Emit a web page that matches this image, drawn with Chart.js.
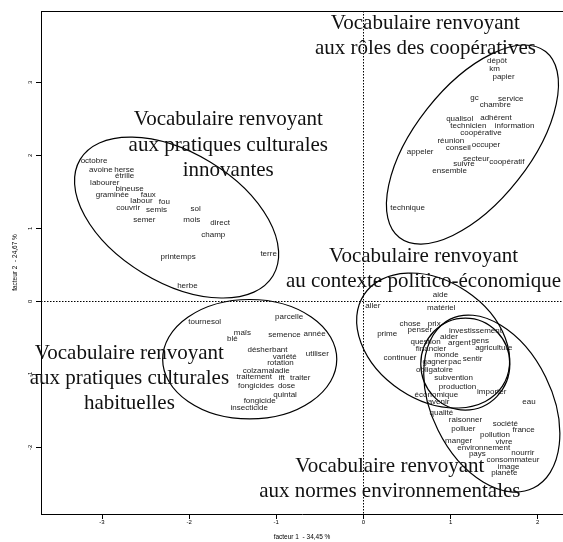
<!DOCTYPE html>
<html>
<head>
<meta charset="utf-8">
<script src="https://cdn.jsdelivr.net/npm/chart.js@4.4.0/dist/chart.umd.min.js"></script>
<style>
  html, body { margin: 0; padding: 0; background: #fff; }
</style>
</head>
<body>
<canvas id="afc" width="563" height="542"></canvas>
<script>
// word coordinates on factor 1 / factor 2
const cooperatives = [
  ['dépôt', 1.533, 3.291], ['km', 1.505, 3.191], ['papier', 1.608, 3.082],
  ['gc', 1.274, 2.789], ['service', 1.690, 2.775], ['chambre', 1.513, 2.694],
  ['qualisol', 1.105, 2.500], ['adhérent', 1.521, 2.519], ['technicien', 1.204, 2.410],
  ['information', 1.735, 2.401], ['coopérative', 1.348, 2.306], ['réunion', 1.002, 2.206],
  ['occuper', 1.406, 2.150], ['conseil', 1.088, 2.107], ['appeler', 0.651, 2.045],
  ['secteur', 1.294, 1.960], ['coopératif', 1.645, 1.908], ['suivre', 1.154, 1.880],
  ['ensemble', 0.989, 1.790], ['technique', 0.507, 1.288]
];
const innovantes = [
  ['octobre', -3.092, 1.922], ['avoine', -3.013, 1.799], ['herse', -2.745, 1.804],
  ['étrille', -2.741, 1.719], ['labourer', -2.968, 1.624], ['bineuse', -2.683, 1.544],
  ['graminée', -2.881, 1.463], ['faux', -2.469, 1.463], ['labour', -2.547, 1.373],
  ['fou', -2.284, 1.359], ['couvrir', -2.700, 1.278], ['semis', -2.374, 1.250],
  ['sol', -1.925, 1.264], ['semer', -2.514, 1.122], ['mois', -1.970, 1.113],
  ['direct', -1.645, 1.070], ['champ', -1.723, 0.914], ['printemps', -2.127, 0.606],
  ['terre', -1.088, 0.658], ['herbe', -2.020, 0.208]
];
const habituelles = [
  ['tournesol', -1.822, -0.275], ['parcelle', -0.853, -0.208], ['maïs', -1.389, -0.426],
  ['blé', -1.505, -0.507], ['semence', -0.907, -0.455], ['année', -0.561, -0.450],
  ['désherbant', -1.101, -0.663], ['utiliser', -0.528, -0.715], ['variété', -0.903, -0.753],
  ['rotation', -0.952, -0.843], ['colza', -1.278, -0.947], ['maladie', -1.006, -0.947],
  ['traitement', -1.253, -1.032], ['ift', -0.940, -1.042], ['traiter', -0.725, -1.042],
  ['fongicides', -1.232, -1.160], ['dose', -0.882, -1.160], ['quintal', -0.899, -1.274],
  ['fongicide', -1.191, -1.364], ['insecticide', -1.311, -1.463]
];
const politique = [
  ['aide', 0.882, 0.095], ['aller', 0.107, -0.066], ['matériel', 0.894, -0.085],
  ['chose', 0.536, -0.308], ['prix', 0.812, -0.313], ['penser', 0.647, -0.388],
  ['investissement', 1.286, -0.402], ['prime', 0.272, -0.450], ['aider', 0.981, -0.478],
  ['question', 0.713, -0.559], ['argent', 1.101, -0.573], ['gens', 1.340, -0.540],
  ['agriculture', 1.496, -0.634], ['financier', 0.775, -0.644], ['monde', 0.952, -0.729],
  ['continuer', 0.420, -0.777], ['sentir', 1.253, -0.791], ['gagner', 0.820, -0.833],
  ['pac', 1.047, -0.824], ['obligatoire', 0.816, -0.938], ['subvention', 1.035, -1.046],
  ['production', 1.080, -1.174], ['importer', 1.472, -1.236], ['économique', 0.837, -1.283],
  ['avenir', 0.862, -1.378], ['eau', 1.900, -1.378]
];
const normes = [
  ['qualité', 0.894, -1.520], ['raisonner', 1.171, -1.624], ['société', 1.628, -1.681],
  ['france', 1.838, -1.761], ['polluer', 1.146, -1.742], ['pollution', 1.509, -1.823],
  ['manger', 1.092, -1.908], ['vivre', 1.612, -1.927], ['environnement', 1.381, -2.008],
  ['pays', 1.307, -2.083], ['nourrir', 1.830, -2.079], ['consommateur', 1.715, -2.164],
  ['image', 1.665, -2.263], ['planète', 1.616, -2.348]
];

// group ellipses: centre x, centre y, half axes (in x / y units), tilt in degrees
const ellipses = [
  [1.251, 2.149, 1.357, 0.790, 51.8],
  [-2.144, 1.149, 1.292, 0.890, -31.1],
  [-1.305, -0.792, 0.999, 0.818, 0],
  [0.800, -0.536, 0.952, 0.814, -33.6],
  [1.169, -0.858, 0.511, 0.630, 0],
  [1.473, -1.399, 1.080, 0.822, -63.8]
];

// theme captions and where they sit on the map
const themeLines = [
  ['Vocabulaire renvoyant', 'aux rôles des coopératives'],
  ['Vocabulaire renvoyant', 'aux pratiques culturales', 'innovantes'],
  ['Vocabulaire renvoyant', 'au contexte politico-économique'],
  ['Vocabulaire renvoyant', 'aux pratiques culturales', 'habituelles'],
  ['Vocabulaire renvoyant', 'aux normes environnementales']
];
const themeX = [0.711, -1.551, 0.690, -2.686, 0.303];
const themeY = [3.631, 2.140, 0.440, -1.056, -2.434];

const xMin = -3.70, xMax = 2.29;
const yMin = -2.912, yMax = 3.978;

const groups = [cooperatives, innovantes, habituelles, politique, normes];

const toPoints = g => g.map(w => ({x: w[1], y: w[2], word: w[0]}));

const afcDecor = {
  id: 'afcDecor',
  beforeDatasetsDraw(chart) {
    const ctx = chart.ctx;
    const area = chart.chartArea;
    const xs = chart.scales.x, ys = chart.scales.y;
    ctx.save();
    // top edge of the box
    ctx.strokeStyle = '#000';
    ctx.lineWidth = 1;
    ctx.beginPath();
    ctx.moveTo(area.left, area.top + 0.5);
    ctx.lineTo(area.right, area.top + 0.5);
    ctx.stroke();
    // axes through the origin
    ctx.setLineDash([1.5, 1.5]);
    const x0 = Math.round(xs.getPixelForValue(0)) + 0.5;
    const y0 = Math.round(ys.getPixelForValue(0)) + 0.5;
    ctx.beginPath();
    ctx.moveTo(x0, area.top);
    ctx.lineTo(x0, area.bottom);
    ctx.moveTo(area.left, y0);
    ctx.lineTo(area.right, y0);
    ctx.stroke();
    ctx.setLineDash([]);
    // ellipses
    const kx = xs.getPixelForValue(1) - xs.getPixelForValue(0);
    const ky = ys.getPixelForValue(0) - ys.getPixelForValue(1);
    ctx.lineWidth = 1.2;
    ellipses.forEach(e => {
      ctx.save();
      ctx.translate(xs.getPixelForValue(e[0]), ys.getPixelForValue(e[1]));
      ctx.rotate(-e[4] * Math.PI / 180);
      ctx.beginPath();
      ctx.ellipse(0, 0, e[2] * kx, e[3] * ky, 0, 0, Math.PI * 2);
      ctx.restore();
      ctx.stroke();
    });
    // y tick labels, turned like the R axis
    ctx.fillStyle = '#000';
    ctx.font = '6px "Liberation Sans"';
    ctx.textAlign = 'center';
    ctx.textBaseline = 'middle';
    ys.ticks.forEach(t => {
      ctx.save();
      ctx.translate(30.5, ys.getPixelForValue(t.value));
      ctx.rotate(-Math.PI / 2);
      ctx.fillText(String(t.value), 0, 0);
      ctx.restore();
    });
    ctx.restore();
  },
  afterDatasetsDraw(chart) {
    const ctx = chart.ctx;
    const xs = chart.scales.x, ys = chart.scales.y;
    ctx.save();
    ctx.textAlign = 'center';
    ctx.textBaseline = 'middle';
    // words
    ctx.fillStyle = '#1a1a1a';
    ctx.font = '8px "Liberation Sans"';
    chart.data.datasets.forEach((ds, i) => {
      chart.getDatasetMeta(i).data.forEach((pt, j) => {
        ctx.fillText(ds.data[j].word, pt.x, pt.y);
      });
    });
    // theme captions
    ctx.fillStyle = '#111';
    ctx.font = '21px "Liberation Serif"';
    const lh = 25.3;
    themeLines.forEach((lines, i) => {
      const cx = xs.getPixelForValue(themeX[i]);
      const cy = ys.getPixelForValue(themeY[i]);
      const start = cy - (lines.length - 1) * lh / 2;
      lines.forEach((s, k) => ctx.fillText(s, cx, start + k * lh));
    });
    ctx.restore();
  }
};

new Chart(document.getElementById('afc'), {
  type: 'scatter',
  data: {
    datasets: groups.map(g => ({data: toPoints(g), pointRadius: 0, pointHoverRadius: 0}))
  },
  options: {
    responsive: false,
    animation: false,
    devicePixelRatio: 1,
    layout: {padding: {top: 11, left: 0, right: 0, bottom: 0}},
    plugins: {legend: {display: false}, tooltip: {enabled: false}},
    scales: {
      x: {
        type: 'linear',
        min: xMin,
        max: xMax,
        afterFit: s => { s.height = 28; },
        border: {display: true, color: '#000', width: 1},
        grid: {drawOnChartArea: false, drawTicks: true, tickLength: 5, color: '#000'},
        ticks: {stepSize: 1, includeBounds: false, padding: 0, color: '#000',
                maxRotation: 0, autoSkip: false, font: {family: 'Liberation Sans', size: 6}},
        title: {display: true, text: 'facteur 1  - 34,45 %', color: '#000',
                font: {family: 'Liberation Sans', size: 6.5}, padding: {top: 1, bottom: 1}}
      },
      y: {
        type: 'linear',
        min: yMin,
        max: yMax,
        afterFit: s => { s.width = 41; },
        border: {display: true, color: '#000', width: 1},
        grid: {drawOnChartArea: false, drawTicks: true, tickLength: 5, color: '#000'},
        ticks: {stepSize: 1, includeBounds: false, display: false},
        title: {display: true, text: 'facteur 2  - 24,67 %', color: '#000',
                font: {family: 'Liberation Sans', size: 6.5}, padding: {top: 11, bottom: 11}}
      }
    }
  },
  plugins: [afcDecor]
});
</script>
</body>
</html>
